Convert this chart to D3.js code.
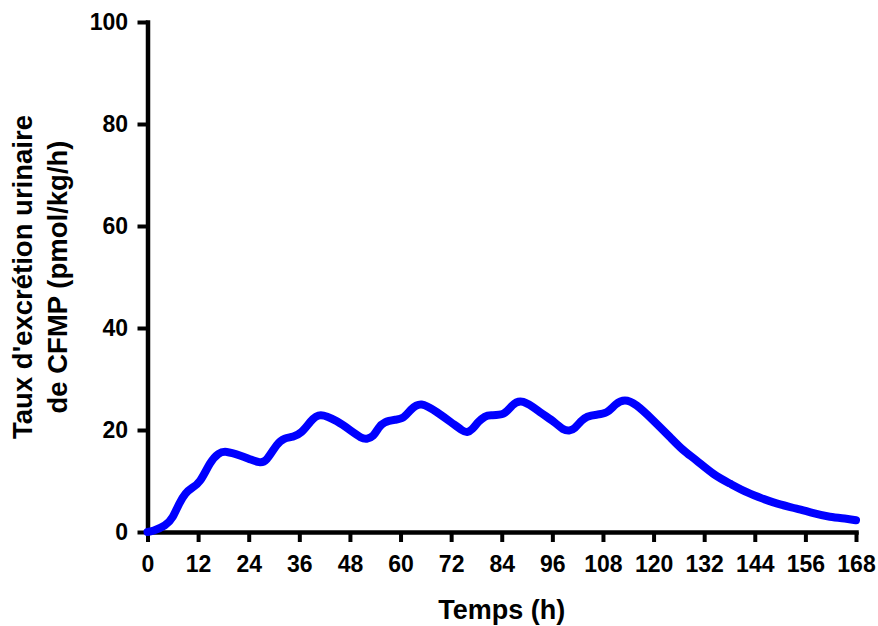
<!DOCTYPE html>
<html>
<head>
<meta charset="utf-8">
<script src="https://cdn.jsdelivr.net/npm/d3@7"></script>
<style>
  html, body { margin: 0; padding: 0; background: #fff; }
  svg { display: block; }
  text { font-family: "Liberation Sans", Arial, Helvetica, sans-serif; font-weight: bold; fill: #000; }
</style>
</head>
<body>
<svg id="chart" width="878" height="626"></svg>
<script>
// ---- Data ----
const timeHours = [0, 1.5, 4.1, 6.0, 7.5, 9.0, 10.5, 12.5, 14.8, 16.8, 18.8, 21.9, 24.5, 26.5, 28.3, 30.6, 32.5, 34.5, 36.5, 38.6, 41.1, 44.9, 48, 50.5, 52, 53.5, 54.8, 56.3, 58.7, 60.7, 62.5, 65.0, 68.6, 72, 74.5, 75.8, 77, 78.5, 80, 81.5, 84.4, 86.5, 89.1, 93.1, 96.5, 98.5, 100, 101.3, 102.8, 104.3, 106.5, 108.9, 111, 113.2, 116, 119.9, 123.9, 127, 130.2, 134.2, 138.1, 142.1, 146, 150, 153.9, 157.9, 161.8, 165.7, 168];
const excretionRate = [0, 0.3, 1.3, 3.0, 5.5, 7.5, 8.6, 10.1, 13.4, 15.3, 15.7, 15.0, 14.2, 13.7, 14.3, 17.0, 18.3, 18.7, 19.6, 21.6, 22.9, 21.7, 20.0, 18.6, 18.3, 18.9, 20.4, 21.5, 22.0, 22.5, 24.0, 25.0, 23.5, 21.5, 20.0, 19.6, 20.2, 21.6, 22.6, 22.9, 23.2, 24.8, 25.5, 23.5, 21.5, 20.2, 19.9, 20.4, 21.7, 22.6, 23.0, 23.5, 25.0, 25.8, 24.8, 21.9, 18.6, 16.1, 14.0, 11.4, 9.5, 7.8, 6.5, 5.4, 4.6, 3.7, 3.0, 2.6, 2.3];
const xTickValues = [0, 12, 24, 36, 48, 60, 72, 84, 96, 108, 120, 132, 144, 156, 168];
const yTickValues = [0, 20, 40, 60, 80, 100];
const xAxisTitle = "Temps (h)";
const yAxisTitleLines = ["Taux d'excrétion urinaire", "de CFMP (pmol/kg/h)"];

const points = timeHours.map((t, i) => ({ t, v: excretionRate[i] }));

// ---- Layout ----
const svg = d3.select("#chart");
const x = d3.scaleLinear().domain([0, 168]).range([147.5, 856]);
const y = d3.scaleLinear().domain([0, 100]).range([532, 22]);

// ---- Axes ----
const xAxis = d3.axisBottom(x).tickValues(xTickValues).tickSizeInner(10).tickSizeOuter(0).tickPadding(14).tickFormat(d3.format("d"));
const yAxis = d3.axisLeft(y).tickValues(yTickValues).tickSizeInner(10).tickSizeOuter(0).tickPadding(9.5).tickFormat(d3.format("d"));

const gx = svg.append("g").attr("transform", `translate(0,${y(0)})`).call(xAxis);
const gy = svg.append("g").attr("transform", `translate(${x(0)},0)`).call(yAxis);

[gx, gy].forEach(g => {
  g.select(".domain").attr("stroke", "#000").attr("stroke-width", 4.5).attr("stroke-linecap", "square");
  g.selectAll(".tick line").attr("stroke", "#000").attr("stroke-width", 4);
  g.selectAll(".tick text").attr("font-size", 23).attr("font-weight", "bold")
    .attr("font-family", "'Liberation Sans', Arial, sans-serif").attr("fill", "#000");
});

// ---- Line ----
const line = d3.line()
  .x(d => x(d.t))
  .y(d => y(d.v))
  .curve(d3.curveNatural);

svg.append("path")
  .datum(points)
  .attr("fill", "none")
  .attr("stroke", "#0000ff")
  .attr("stroke-width", 8)
  .attr("stroke-linejoin", "round")
  .attr("stroke-linecap", "round")
  .attr("d", line);

// ---- Titles ----
svg.append("text")
  .attr("x", (x(0) + x(168)) / 2)
  .attr("y", 619)
  .attr("text-anchor", "middle")
  .attr("font-size", 27)
  .text(xAxisTitle);

const yMid = (y(0) + y(100)) / 2;
const yTitle = svg.append("text")
  .attr("transform", `translate(0,${yMid}) rotate(-90)`)
  .attr("text-anchor", "middle")
  .attr("font-size", 27.5);
yTitle.append("tspan").attr("x", 0).attr("y", 32).text(yAxisTitleLines[0]);
yTitle.append("tspan").attr("x", 0).attr("y", 66.5).text(yAxisTitleLines[1]);
</script>
</body>
</html>
